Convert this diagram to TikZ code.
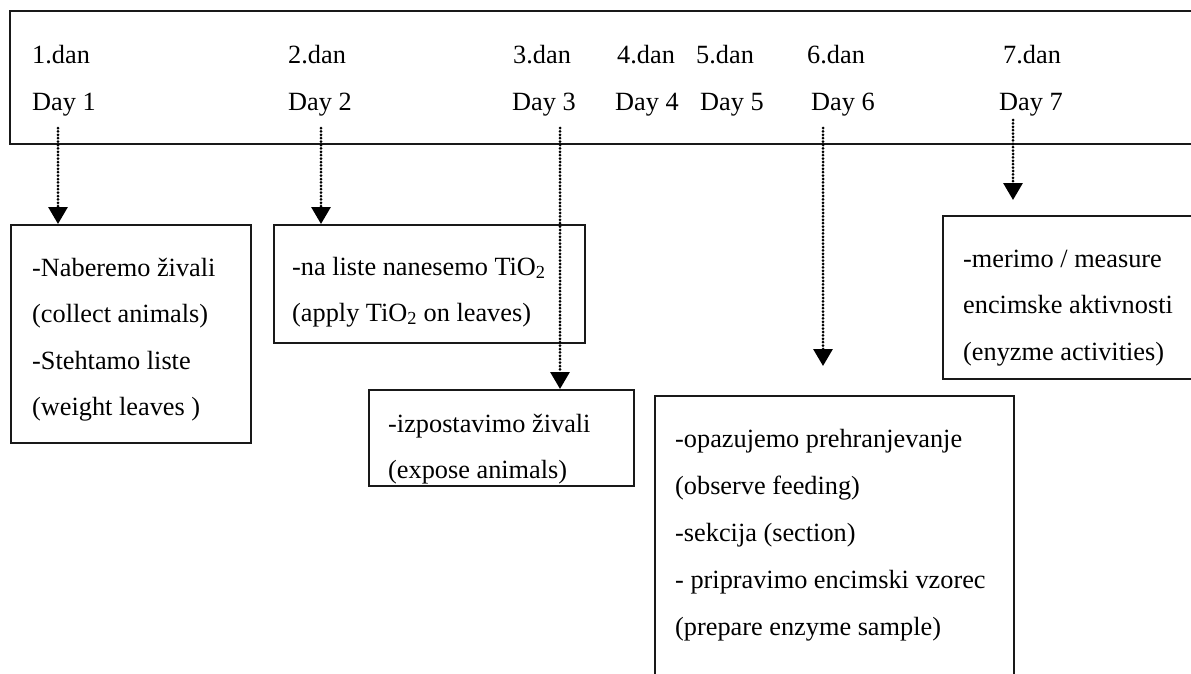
\documentclass[tikz,border=0pt]{standalone}
\usepackage{fontspec}
\setmainfont{Liberation Serif}
\usetikzlibrary{arrows.meta}
\begin{document}
\begin{tikzpicture}[x=1pt,y=-1pt,
  frame/.style={draw=black!90, line width=1.8pt},
  box/.style={frame, rectangle, inner sep=0pt, anchor=north west},
  txt/.style={anchor=base west, inner sep=0pt, font=\fontsize{26.3}{30}\selectfont, text=black},
  darr/.style={draw=black, line width=3pt, dash pattern=on 0pt off 3.4pt, line cap=round,
    -{Triangle[width=19pt,length=17pt]}}]
\useasboundingbox (0,0) rectangle (1191,673);
% top band
\draw[frame] (1200,11) -- (10,11) -- (10,144) -- (1200,144);
\node[txt] (n1) at (32,63) {1.dan};
\node[txt] (d1) at (32,110) {Day 1};
\node[txt] (n2) at (288,63) {2.dan};
\node[txt] (d2) at (288,110) {Day 2};
\node[txt] (n3) at (513,63) {3.dan};
\node[txt] (d3) at (512,110) {Day 3};
\node[txt] (n4) at (617,63) {4.dan};
\node[txt] (d4) at (615,110) {Day 4};
\node[txt] (n5) at (696,63) {5.dan};
\node[txt] (d5) at (700,110) {Day 5};
\node[txt] (n6) at (807,63) {6.dan};
\node[txt] (d6) at (811,110) {Day 6};
\node[txt] (n7) at (1003,63) {7.dan};
\node[txt] (d7) at (999,110) {Day 7};
% boxes
\node[box, minimum width=240pt, minimum height=218pt] (b1) at (10,224) {};
\node[box, minimum width=311pt, minimum height=118pt] (b2) at (273,224) {};
\node[box, minimum width=265pt, minimum height=96pt] (b3) at (368,389) {};
\node[box, minimum width=359pt, minimum height=320pt] (b6) at (654,395) {};
\node[box, minimum width=280pt, minimum height=163pt] (b7) at (942,215) {};
% box texts
\node[txt] (t1a) at (32,276) {-Naberemo živali};
\node[txt] (t1b) at (32,322) {(collect animals)};
\node[txt] (t1c) at (32,369) {-Stehtamo liste};
\node[txt] (t1d) at (32,415) {(weight leaves )};
\node[txt] (t2a) at (292,275) {-na liste nanesemo TiO\textsubscript{2}};
\node[txt] (t2b) at (292,321) {(apply TiO\textsubscript{2} on leaves)};
\node[txt] (t3a) at (388,432) {-izpostavimo živali};
\node[txt] (t3b) at (388,478) {(expose animals)};
\node[txt] (t6a) at (675,447) {-opazujemo prehranjevanje};
\node[txt] (t6b) at (675,494) {(observe feeding)};
\node[txt] (t6c) at (675,541) {-sekcija (section)};
\node[txt] (t6d) at (675,588) {- pripravimo encimski vzorec};
\node[txt] (t6e) at (675,635) {(prepare enzyme sample)};
\node[txt] (t7a) at (963,267) {-merimo / measure};
\node[txt] (t7b) at (963,313) {encimske aktivnosti};
\node[txt] (t7c) at (963,360) {(enyzme activities)};
% arrows
\coordinate (s1) at (58,128);
\coordinate (s2) at (321,128);
\coordinate (s3) at (560,128);
\coordinate (s6) at (823,128);
\coordinate (e6) at (823,366);
\coordinate (s7) at (1013,120);
\coordinate (e7) at (1013,200);
\draw[darr] (s1) -- (s1 |- b1.north);
\draw[darr] (s2) -- (s2 |- b2.north);
\draw[darr] (s3) -- (s3 |- b3.north);
\draw[darr] (s6) -- (e6);
\draw[darr] (s7) -- (e7);
\end{tikzpicture}
\end{document}
